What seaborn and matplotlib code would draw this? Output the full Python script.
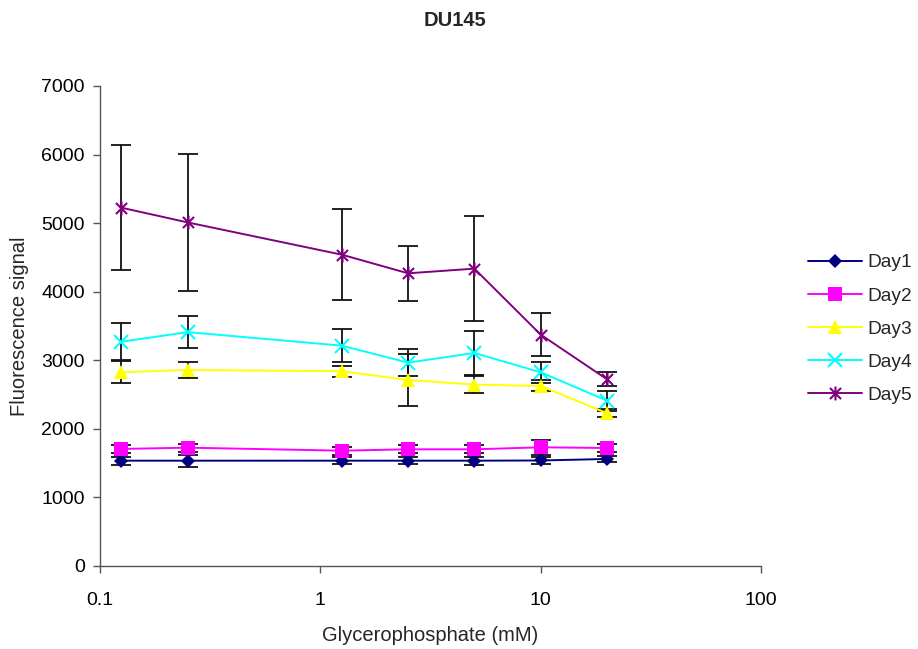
import numpy as np
import pandas as pd
import matplotlib
matplotlib.use("Agg")
import matplotlib.pyplot as plt
from matplotlib.path import Path
import seaborn as sns

# ---- data ----
conc = [0.125, 0.25, 1.25, 2.5, 5, 10, 20]
days = ["Day1", "Day2", "Day3", "Day4", "Day5"]
day1 = [1535, 1535, 1535, 1535, 1535, 1538, 1560]
day2 = [1706, 1725, 1681, 1701, 1701, 1730, 1720]
day3 = [2824, 2858, 2840, 2712, 2645, 2625, 2227]
day4 = [3270, 3410, 3213, 2965, 3106, 2824, 2411]
day5 = [5225, 5010, 4540, 4268, 4336, 3373, 2722]
err1 = [60, 90, 50, 50, 60, 50, 50]
err2 = [60, 60, 60, 60, 60, 110, 60]
err3 = [160, 115, 80, 385, 120, 80, 60]
err4 = [270, 235, 240, 200, 325, 150, 145]
err5 = [910, 1000, 660, 405, 770, 310, 100]
xticks = [0.1, 1, 10, 100]
xticklabels = ["0.1", "1", "10", "100"]
yticks = [0, 1000, 2000, 3000, 4000, 5000, 6000, 7000]

values = [day1, day2, day3, day4, day5]
errors = [err1, err2, err3, err4, err5]
colors = ["#000080", "#FF00FF", "#FFFF00", "#00FFFF", "#800080"]

star = Path([(-1, -1), (1, 1), (-1, 1), (1, -1), (0, -1.25), (0, 1.25)],
            [Path.MOVETO, Path.LINETO, Path.MOVETO, Path.LINETO, Path.MOVETO, Path.LINETO])
markers = {"Day1": "D", "Day2": "s", "Day3": "^", "Day4": "x", "Day5": star}
msizes = {"Day1": 7.5, "Day2": 9.5, "Day3": 10.5, "Day4": 10, "Day5": 10}

df = pd.DataFrame({
    "conc": np.tile(conc, len(days)),
    "value": np.concatenate(values),
    "day": np.repeat(days, len(conc)),
})

sns.set_theme(style="white")
plt.rcParams["font.family"] = ["Liberation Sans", "DejaVu Sans"]

fig = plt.figure(figsize=(9.18, 6.49), dpi=100)
ax = fig.add_axes([0.109, 0.128, 0.720, 0.7395])
ax.set_xscale("log")

# error bars
for vals, errs in zip(values, errors):
    ax.errorbar(conc, vals, yerr=errs, fmt="none", ecolor="#111111",
                elinewidth=1.3, capsize=7, capthick=1.3, zorder=2)

for d, c in zip(days, colors):
    sub = df[df["day"] == d]
    sns.lineplot(data=sub, x="conc", y="value", ax=ax, color=c, linewidth=1.4,
                 marker=markers[d], markersize=msizes[d], markeredgewidth=1.5 if d in ("Day4", "Day5") else 0,
                 markerfacecolor=c if d not in ("Day4", "Day5") else "none",
                 markeredgecolor=c, label=d, zorder=3, estimator=None, sort=False)

ax.set_xlim(0.1, 100)
ax.set_ylim(0, 7000)
ax.set_xticks(xticks)
ax.set_xticklabels(xticklabels)
ax.xaxis.set_minor_locator(matplotlib.ticker.NullLocator())
ax.set_yticks(yticks)
ax.tick_params(axis="both", which="major", direction="out", length=5, width=1,
               color="#555555", labelsize=14, labelcolor="black", bottom=True, left=True)
ax.tick_params(axis="x", pad=13.5)
ax.tick_params(axis="y", pad=6)
for s in ["top", "right"]:
    ax.spines[s].set_visible(False)
for s in ["left", "bottom"]:
    ax.spines[s].set_color("#555555")
    ax.spines[s].set_linewidth(1)
ax.grid(False)

ax.set_xlabel("Glycerophosphate (mM)", fontsize=14.5, labelpad=12.5)
ax.set_ylabel("Fluorescence signal", fontsize=14.5, labelpad=8.5)
fig.suptitle("DU145", x=0.4956, y=0.983, fontsize=14.5, fontweight="bold")

ax.legend(loc="center left", bbox_to_anchor=(0.880, 0.4931), bbox_transform=fig.transFigure,
          frameon=False, fontsize=13.8, handlelength=2.85, labelspacing=0.82,
          handletextpad=0.25, borderpad=0, borderaxespad=0)

fig.savefig("out.png", dpi=100)
